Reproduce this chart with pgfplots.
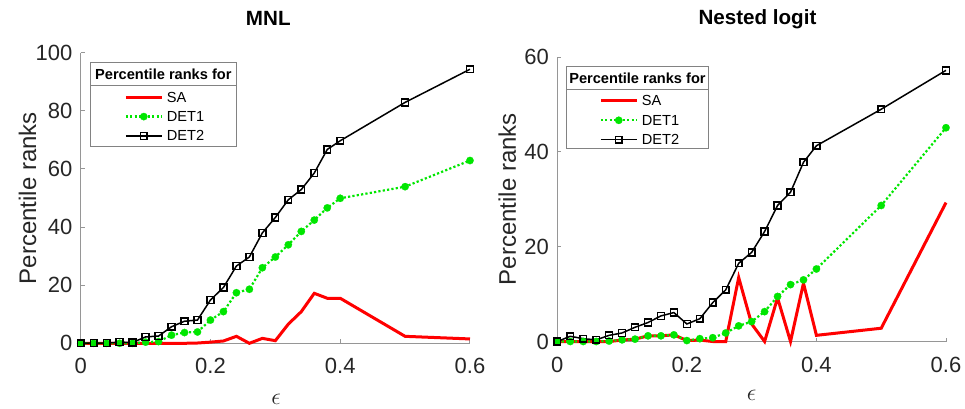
\documentclass[border=0pt]{standalone}
\usepackage{pgfplots}
\usepackage{pgfplotstable}
\pgfplotsset{compat=1.18}
\usepackage{fontspec}
\setmainfont{Liberation Sans}

\definecolor{saRed}{RGB}{255,0,0}
\definecolor{detGreen}{RGB}{0,230,0}
\definecolor{axGray}{RGB}{150,150,150}
\definecolor{lgGray}{RGB}{130,130,130}
\definecolor{tkText}{RGB}{38,38,38}

% Percentile ranks, multinomial logit model
\pgfplotstableread{
eps   SA    DET1  DET2
0.00  0.0   0.0   0.0
0.02  0.0   0.0   0.1
0.04  0.0   0.0   0.1
0.06  0.0   0.0   0.4
0.08  0.0   0.0   0.3
0.10  0.0   0.4   2.2
0.12  0.0   0.6   2.5
0.14  0.0   2.8   5.7
0.16  0.0   3.7   7.6
0.18  0.1   3.9   8.0
0.20  0.4   8.0   14.9
0.22  0.8   10.9  19.2
0.24  2.4   17.4  26.6
0.26  0.0   18.6  29.7
0.28  1.7   26.0  38.0
0.30  0.9   29.7  43.3
0.32  6.6   33.9  49.4
0.34  10.9  38.5  52.9
0.36  17.2  42.4  58.6
0.38  15.5  46.6  66.7
0.40  15.5  49.9  69.7
0.50  2.4   53.9  82.9
0.60  1.5   62.9  94.3
}\mnltab

% Percentile ranks, nested logit model
\pgfplotstableread{
eps   SA    DET1  DET2
0.00  0.0   0.0   0.0
0.02  0.0   0.0   1.1
0.04  0.0   0.0   0.6
0.06  0.0   0.0   0.35
0.08  0.0   0.1   1.3
0.10  0.3   0.35  1.8
0.12  0.5   0.5   3.0
0.14  1.2   1.2   4.0
0.16  1.2   1.2   5.4
0.18  1.4   1.4   6.1
0.20  0.2   0.2   3.7
0.22  0.3   0.6   4.8
0.24  0.0   0.8   8.2
0.26  0.0   1.8   10.9
0.28  13.5  3.3   16.5
0.30  3.7   4.2   18.8
0.32  0.0   6.3   23.2
0.34  9.2   9.5   28.7
0.36  0.0   12.0  31.5
0.38  12.3  13.0  37.8
0.40  1.3   15.3  41.3
0.50  2.8   28.7  49.0
0.60  29.3  45.1  57.2
}\nltab

\tikzset{
  legtitle/.style={font=\fontsize{7.3}{8.5}\selectfont\bfseries, anchor=center},
}

\pgfplotsset{
  rankaxis/.style={
    scale only axis, anchor=south west,
    xmin=0, xmax=0.6, ymin=0,
    axis x line*=bottom, axis y line*=left,
    axis line style={axGray, line width=0.5pt},
    tick align=inside,
    major tick length=2pt,
    tick style={axGray, line width=0.5pt},
    xtick={0,0.2,0.4,0.6},
    /pgf/number format/assume math mode=true,
    tick label style={font=\fontsize{11}{13}\selectfont, text=tkText},
    xticklabel style={/pgf/number format/fixed, /pgf/number format/precision=1,
      anchor=north, inner sep=0pt, yshift=-7.4pt},
    yticklabel style={anchor=east, inner sep=0pt, xshift=-4pt},
    ylabel={Percentile ranks},
    ylabel style={font=\fontsize{12}{14}\selectfont, text=tkText, anchor=base, inner sep=0pt},
    xlabel={$\epsilon$},
    xlabel style={font=\fontsize{12.5}{14}\selectfont, text=tkText, anchor=base, inner sep=0pt},
    title style={font=\fontsize{10.3}{12}\selectfont\bfseries, anchor=base, inner sep=0pt, yshift=-6.6pt},
    clip=false,
    legend style={draw=none, fill=none, inner sep=0pt, outer sep=0pt,
      row sep=0pt, column sep=1.8pt, anchor=north west,
      font=\fontsize{7.3}{8.5}\selectfont,
      nodes={inner sep=0pt, text height=7.3pt, text depth=2.4pt}},
    legend cell align=left,
    legend image code/.code={\draw[mark repeat=2, mark phase=2]
      plot coordinates {(0pt,0pt) (9pt,0pt) (18pt,0pt)};},
  },
  saline/.style={saRed, line width=1.5pt, no markers},
  det1line/.style={detGreen, line width=1.1pt, dash pattern=on 1.1pt off 1.1pt,
    mark=*, mark size=1.85pt,
    mark options={solid, fill=detGreen, draw=detGreen, line width=0.1pt}},
  det2line/.style={black, line width=0.75pt, mark=square, mark size=1.7pt,
    mark options={solid, line width=0.75pt}},
}

\begin{document}
\begin{tikzpicture}
\useasboundingbox (0,0) rectangle (482.5pt,204pt);

% Left panel: MNL
\begin{axis}[rankaxis,
  at={(40.35pt,32.35pt)}, width=194.65pt, height=145.3pt,
  ymax=100, ytick={0,20,40,60,80,100},
  title={MNL}, title style={at={(axis description cs:0.4819,1.0988)}},
  ylabel style={at={(axis description cs:-0.1148,0.5)}},
  xlabel style={at={(axis description cs:0.502,-0.2123)}},
  legend style={at={(axis description cs:0.112,0.8803)}},
]
\addplot[saline] table[x=eps, y=SA] {\mnltab};
\addlegendentry{SA}
\addplot[det1line] table[x=eps, y=DET1] {\mnltab};
\addlegendentry{DET1}
\addplot[det2line] table[x=eps, y=DET2] {\mnltab};
\addlegendentry{DET2}
\draw[lgGray, line width=0.5pt] (axis description cs:0.0257,0.9656) rectangle (axis description cs:0.399,0.6765);
\draw[lgGray, line width=0.5pt] (axis description cs:0.0257,0.8864) -- (axis description cs:0.399,0.8864);
\node[legtitle] at (axis description cs:0.2123,0.926) {Percentile ranks for};
\end{axis}

% Right panel: nested logit
\begin{axis}[rankaxis,
  at={(278.65pt,33.25pt)}, width=194.35pt, height=142.2pt,
  ymax=60, ytick={0,20,40,60},
  title={Nested logit}, title style={at={(axis description cs:0.515,1.1199)}},
  ylabel style={at={(axis description cs:-0.1063,0.5)}},
  xlabel style={at={(axis description cs:0.5,-0.2092)}},
  legend style={at={(axis description cs:0.108,0.8801)}},
]
\addplot[saline] table[x=eps, y=SA] {\nltab};
\addlegendentry{SA}
\addplot[det1line] table[x=eps, y=DET1] {\nltab};
\addlegendentry{DET1}
\addplot[det2line] table[x=eps, y=DET2] {\nltab};
\addlegendentry{DET2}
\draw[lgGray, line width=0.5pt] (axis description cs:0.0242,0.9662) rectangle (axis description cs:0.3885,0.6769);
\draw[lgGray, line width=0.5pt] (axis description cs:0.0242,0.8868) -- (axis description cs:0.3885,0.8868);
\node[legtitle] at (axis description cs:0.2063,0.9248) {Percentile ranks for};
\end{axis}
\end{tikzpicture}
\end{document}
